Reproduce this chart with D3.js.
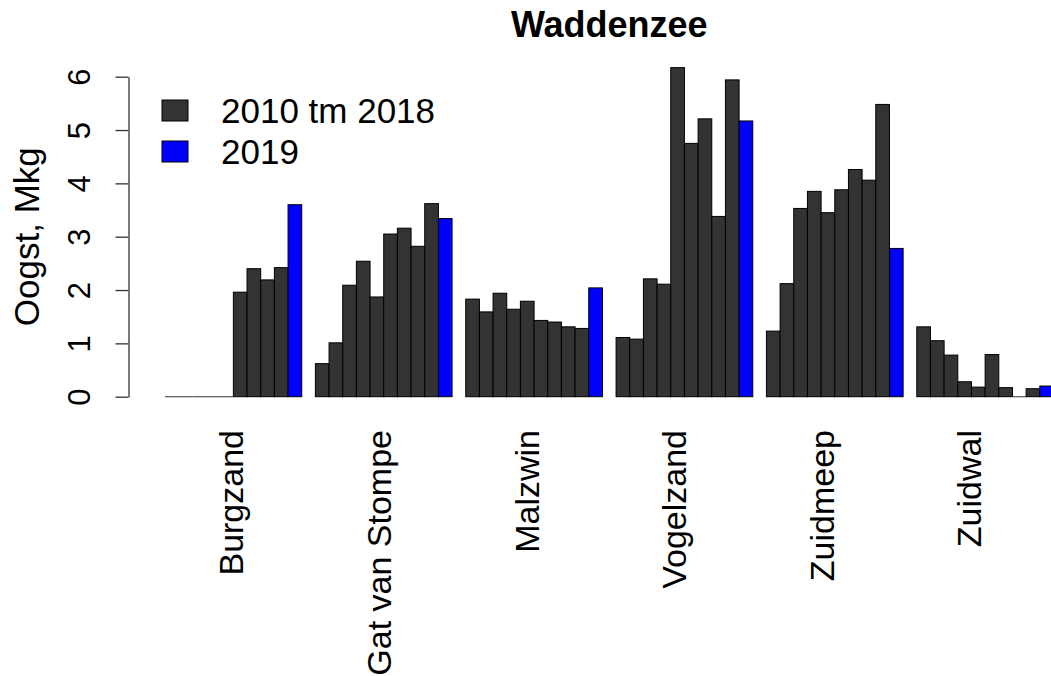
<!DOCTYPE html>
<html>
<head>
<meta charset="utf-8">
<script src="https://cdn.jsdelivr.net/npm/d3@7"></script>
<style>
  body { margin: 0; background: #fff; }
  svg { display: block; font-family: Arial, "Liberation Sans", sans-serif; }
</style>
</head>
<body>
<div id="chart"></div>
<script>
// oogst per gebied, 2010 t/m 2019 (Mkg)
var gebieden = ["Burgzand", "Gat van Stompe", "Malzwin", "Vogelzand", "Zuidmeep", "Zuidwal"];
var jaren = [2010, 2011, 2012, 2013, 2014, 2015, 2016, 2017, 2018, 2019];

var burgzand     = [0, 0, 0, 0, 0, 1.96, 2.40, 2.19, 2.42, 3.60];
var gatVanStompe = [0.62, 1.01, 2.09, 2.54, 1.87, 3.05, 3.16, 2.82, 3.62, 3.34];
var malzwin      = [1.83, 1.59, 1.94, 1.64, 1.79, 1.43, 1.40, 1.31, 1.28, 2.04];
var vogelzand    = [1.11, 1.08, 2.21, 2.11, 6.17, 4.75, 5.21, 3.38, 5.94, 5.17];
var zuidmeep     = [1.23, 2.12, 3.53, 3.85, 3.45, 3.88, 4.26, 4.06, 5.48, 2.78];
var zuidwal      = [1.31, 1.05, 0.78, 0.28, 0.18, 0.79, 0.17, 0, 0.15, 0.20];

var yTicks = [0, 1, 2, 3, 4, 5, 6];
// label positions on the bar axis, seq(6, 60, length = 6)
var labelAt = [6, 16.8, 27.6, 38.4, 49.2, 60];
var legendLabels = ["2010 tm 2018", "2019"];

var series = [burgzand, gatVanStompe, malzwin, vogelzand, zuidmeep, zuidwal];

var width = 1051, height = 676;

var svg = d3.select("#chart").append("svg")
  .attr("width", width)
  .attr("height", height);

svg.append("rect").attr("width", width).attr("height", height).attr("fill", "#fff");

// barplot units, like R: space 1 before each group, bar width 1
var x = d3.scaleLinear().domain([-1.6, 68.6]).range([129.5, 1089]);
var y = d3.scaleLinear().domain([0, 6]).range([396.7, 76.7]);

var kleur = function(i) { return i === jaren.length - 1 ? "#0000ff" : "#333333"; };

var bars = [];
series.forEach(function(vals, g) {
  vals.forEach(function(v, i) {
    bars.push({g: g, i: i, v: v, left: g * 11 + 1 + i});
  });
});

svg.append("g").selectAll("rect")
  .data(bars.filter(function(d) { return d.v > 0; }))
  .enter().append("rect")
  .attr("x", function(d) { return x(d.left); })
  .attr("y", function(d) { return y(d.v); })
  .attr("width", function(d) { return x(d.left + 1) - x(d.left); })
  .attr("height", function(d) { return y(0) - y(d.v); })
  .attr("fill", function(d) { return kleur(d.i); })
  .attr("stroke", "#000")
  .attr("stroke-width", 1);

// zero bars still leave their outline as a flat line
svg.append("g").selectAll("line")
  .data(bars.filter(function(d) { return d.v === 0; }))
  .enter().append("line")
  .attr("x1", function(d) { return x(d.left); })
  .attr("x2", function(d) { return x(d.left + 1); })
  .attr("y1", y(0))
  .attr("y2", y(0))
  .attr("stroke", "#555")
  .attr("stroke-width", 1.2);

// y axis
var yAxis = svg.append("g")
  .attr("transform", "translate(128.5,0)")
  .call(d3.axisLeft(y).tickValues(yTicks).tickSize(13).tickSizeOuter(0).tickFormat(d3.format("d")));

yAxis.select(".domain").attr("stroke", "#333").attr("stroke-width", 1.3);
yAxis.selectAll(".tick line").attr("stroke", "#333").attr("stroke-width", 1.3);
yAxis.selectAll(".tick text")
  .attr("x", null).attr("dy", null)
  .attr("transform", "translate(-38.5,0) rotate(-90)")
  .attr("text-anchor", "middle")
  .style("font-size", "31px")
  .style("font-family", "Arial, 'Liberation Sans', sans-serif")
  .attr("fill", "#000");

svg.append("text")
  .attr("transform", "translate(39," + y(3) + ") rotate(-90)")
  .attr("text-anchor", "middle")
  .attr("font-size", 35)
  .text("Oogst, Mkg");

// group labels
svg.append("g").selectAll("text")
  .data(gebieden)
  .enter().append("text")
  .attr("transform", function(d, g) {
    return "translate(" + (x(labelAt[g]) + 10) + ",430) rotate(-90)";
  })
  .attr("text-anchor", "end")
  .attr("font-size", 34)
  .text(function(d) { return d; });

// title
svg.append("text")
  .attr("x", x(33.5))
  .attr("y", 36.5)
  .attr("text-anchor", "middle")
  .attr("font-size", 36)
  .attr("font-weight", "bold")
  .text("Waddenzee");

// legend
var legend = svg.append("g").selectAll("g")
  .data(legendLabels)
  .enter().append("g")
  .attr("transform", function(d, i) { return "translate(0," + (i * 41) + ")"; });

legend.append("rect")
  .attr("x", 162)
  .attr("y", 100)
  .attr("width", 26)
  .attr("height", 21)
  .attr("fill", function(d, i) { return i === 0 ? "#333333" : "#0000ff"; })
  .attr("stroke", "#000");

legend.append("text")
  .attr("x", 221)
  .attr("y", 123)
  .attr("font-size", 35)
  .text(function(d) { return d; });
</script>
</body>
</html>
